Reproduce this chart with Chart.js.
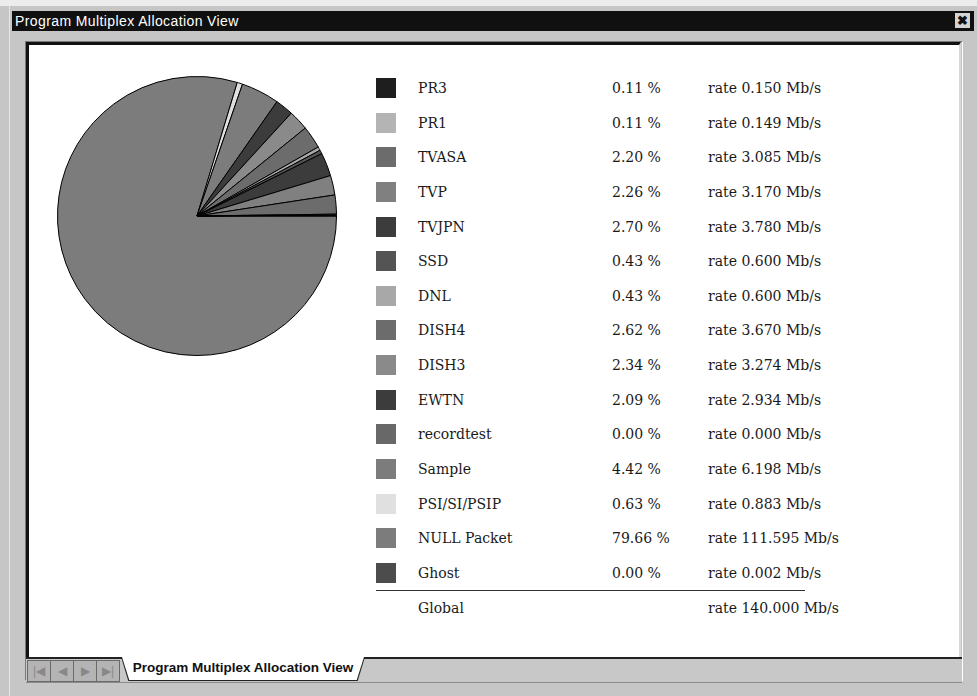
<!DOCTYPE html>
<html>
<head>
<meta charset="utf-8">
<script src="https://cdn.jsdelivr.net/npm/chart.js@4.4.1/dist/chart.umd.min.js"></script>
<style>
    html, body { margin: 0; padding: 0; }
    body { width: 977px; height: 696px; background: #c6c6c6; position: relative; overflow: hidden; font-family: Arial, "Liberation Sans", sans-serif; }
    .abs { position: absolute; }
    #topStrip { left: 0; top: 0; width: 977px; height: 6px; background: #ececec; }
    #frameLine { left: 9px; top: 6px; width: 1px; height: 690px; background: #e6e6e6; }
    #titleBar { left: 12px; top: 11px; width: 962px; height: 20px; background: #101010; color: #fff; font-size: 14px; line-height: 20px; }
    #titleBar span { position: absolute; left: 3px; top: 0; letter-spacing: 0.4px; }
    #closeBtn { left: 955px; top: 13px; width: 15px; height: 15px; background: #d4d4d4; color: #111; font-size: 13px; line-height: 15px; text-align: center; font-weight: bold; }
    #panel { left: 25px; top: 41px; width: 936px; height: 638px; border-style: solid; border-width: 1px; border-color: #7a7a7a #ffffff #ffffff #7a7a7a; }
    #inner { left: 0; top: 0; width: 930px; height: 612px; background: #fff; border-style: solid; border-width: 3px 2px 0 3px; border-color: #111 #d8d8d8 #d8d8d8 #111; }
    #tabBar { left: 0; top: 615px; width: 936px; height: 23px; background: #c8c8c8; border-top: 2px solid #222; border-bottom: 1px solid #8a8a8a; }
    .navBtn { top: 1px; width: 22px; height: 20px; background: #b4b4b4; border: 1px solid #6a6a6a; color: #888; font-size: 12px; line-height: 20px; text-align: center; }
    #activeTab { left: 95px; top: -2px; width: 244px; height: 24px; background: #222; clip-path: polygon(0 0, 100% 0, 97% 100%, 3% 100%); }
    #activeTabIn { left: 1px; top: 0; width: 242px; height: 23px; background: #fff; clip-path: polygon(0 0, 100% 0, 97% 100%, 3% 100%); font-weight: bold; font-size: 13.5px; line-height: 22px; text-align: center; color: #111; font-family: "Liberation Sans Narrow", "Arial Narrow", Arial, sans-serif; }
    #pieCanvas { left: 57px; top: 76px; }
    .legend { font-family: "DejaVu Serif", "Liberation Serif", serif; font-size: 14px; color: #1a1a1a; line-height: 20px; white-space: nowrap; }
    .swatch { width: 20px; height: 20px; }
    #globalLine { left: 376px; top: 590px; width: 429px; height: 1px; background: #333; }
</style>
</head>
<body>
<div class="abs" id="topStrip"></div>
<div class="abs" id="frameLine"></div>
<div class="abs" id="titleBar"><span>Program Multiplex Allocation View</span></div>
<div class="abs" id="closeBtn">&#x2716;</div>
<div class="abs" id="panel">
    <div class="abs" id="inner"></div>
    <div class="abs" id="tabBar">
        <div class="abs navBtn" style="left:1px">|&#9664;</div>
        <div class="abs navBtn" style="left:24px">&#9664;</div>
        <div class="abs navBtn" style="left:47px">&#9654;</div>
        <div class="abs navBtn" style="left:70px">&#9654;|</div>
        <div class="abs" id="activeTab"><div class="abs" id="activeTabIn">Program Multiplex Allocation View</div></div>
    </div>
</div>
<canvas class="abs" id="pieCanvas" width="280" height="280"></canvas>
<div id="legend"></div>
<div class="abs" id="globalLine"></div>

<script>
// Program names, share and rate, in the order of the legend
const programs = ['PR3', 'PR1', 'TVASA', 'TVP', 'TVJPN', 'SSD', 'DNL', 'DISH4', 'DISH3', 'EWTN', 'recordtest', 'Sample', 'PSI/SI/PSIP', 'NULL Packet', 'Ghost'];
const percents = ['0.11', '0.11', '2.20', '2.26', '2.70', '0.43', '0.43', '2.62', '2.34', '2.09', '0.00', '4.42', '0.63', '79.66', '0.00'];
const rates = [0.150, 0.149, 3.085, 3.170, 3.780, 0.600, 0.600, 3.670, 3.274, 2.934, 0.000, 6.198, 0.883, 111.595, 0.002];
const colors = ['#1e1e1e', '#b4b4b4', '#6c6c6c', '#808080', '#3c3c3c', '#545454', '#a8a8a8', '#6c6c6c', '#8a8a8a', '#3c3c3c', '#686868', '#7c7c7c', '#e0e0e0', '#7c7c7c', '#4c4c4c'];
const globalRate = '140.000';

// Build legend rows
const legendEl = document.getElementById('legend');
const rowTop = 88;
const rowStep = 34.64;
let html = '';
programs.forEach((name, i) => {
    const cy = Math.round(rowTop + i * rowStep);
    html += `<div class="abs swatch" style="left:376px;top:${cy - 10}px;background:${colors[i]}"></div>`;
    html += `<div class="abs legend" style="left:418px;top:${cy - 10}px">${name}</div>`;
    html += `<div class="abs legend" style="left:612px;top:${cy - 10}px">${percents[i]} %</div>`;
    html += `<div class="abs legend" style="left:708px;top:${cy - 10}px">rate ${rates[i].toFixed(3)} Mb/s</div>`;
});
html += `<div class="abs legend" style="left:418px;top:598px">Global</div>`;
html += `<div class="abs legend" style="left:708px;top:598px">rate ${globalRate} Mb/s</div>`;
legendEl.innerHTML = html;

// Pie goes counter-clockwise from 3 o'clock, so feed it reversed and start at 90 deg
const pieLabels = programs.slice().reverse();
const pieData = rates.slice().reverse();
const pieColors = colors.slice().reverse();

new Chart(document.getElementById('pieCanvas'), {
    type: 'pie',
    data: {
        labels: pieLabels,
        datasets: [{
            data: pieData,
            backgroundColor: pieColors,
            borderColor: '#000',
            borderWidth: 1
        }]
    },
    options: {
        responsive: false,
        animation: false,
        rotation: 90,
        layout: { padding: 0 },
        plugins: {
            legend: { display: false },
            tooltip: { enabled: false }
        }
    }
});
</script>
</body>
</html>
